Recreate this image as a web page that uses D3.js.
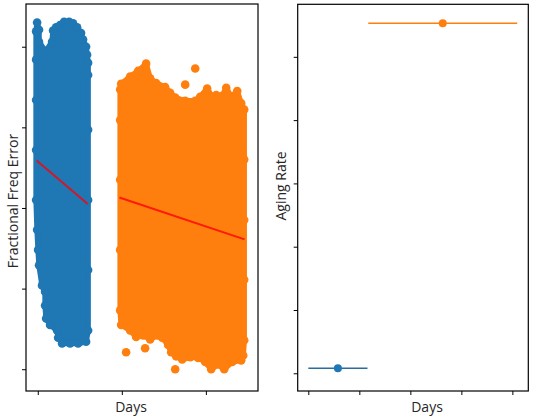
<!DOCTYPE html>
<html>
<head>
<meta charset="utf-8">
<script src="https://cdn.jsdelivr.net/npm/d3@7"></script>
<style>
  body { margin: 0; background: #fff; }
  text { font-family: "Open Sans", Lato, sans-serif; }
</style>
</head>
<body>
<div id="chart"></div>
<script>
// ---- data ----
// left panel: outline of each dense cloud of samples (days, fractional error)
var blueEdge = [
  [-2.0,2.19],[-0.8,2.30],[1.5,2.21],[1.5,2.06],[9.3,1.94],[17.0,2.06],[18.2,2.20],
  [21.8,2.24],[26.5,2.27],[31.3,2.31],[37.3,2.31],[42.0,2.29],[46.8,2.24],[51.5,2.17],
  [53.9,2.09],[57.5,2.00],[58.7,1.90],[59.9,1.80],[59.9,1.65],[59.9,0.97],[59.9,0.10],
  [59.9,-0.77],[59.9,-1.52],[57.5,-1.66],[48.0,-1.68],[38.5,-1.68],[28.9,-1.68],
  [24.2,-1.61],[23.0,-1.52],[14.6,-1.45],[9.9,-1.37],[8.7,-1.21],[8.7,-1.04],[5.1,-0.96],
  [1.5,-0.71],[0.4,-0.52],[-0.8,-0.27],[-2.0,0.10],[-2.0,0.72],[-2.0,1.34],[-2.0,1.84]
];
var orangeEdge = [
  [98.0,1.47],[99.2,1.54],[109.9,1.63],[119.4,1.70],[128.9,1.79],[133.7,1.61],[140.8,1.55],
  [151.5,1.50],[157.5,1.43],[163.5,1.37],[175.4,1.33],[187.3,1.33],[193.2,1.38],[201.5,1.48],
  [207.5,1.38],[212.3,1.40],[219.4,1.39],[224.2,1.49],[230.1,1.38],[237.3,1.45],[242.0,1.30],
  [245.6,1.22],[245.6,0.60],[245.6,-0.15],[245.6,-0.89],[245.6,-1.64],[244.4,-1.83],
  [242.0,-1.89],[231.3,-1.91],[221.8,-2.00],[214.6,-1.94],[206.3,-2.00],[199.2,-1.91],
  [190.8,-1.86],[181.3,-1.85],[171.8,-1.88],[164.6,-1.84],[158.7,-1.79],[155.1,-1.70],
  [148.0,-1.61],[142.0,-1.58],[133.7,-1.63],[125.4,-1.58],[117.0,-1.60],[109.9,-1.52],
  [99.2,-1.45],[98.0,-1.27],[98.0,-0.52],[98.0,0.35],[98.0,1.09]
];
var blueStray = [];
var orangeStray = [[175.4,1.53],[187.3,1.73],[105.1,-1.79],[127.7,-1.74],[163.5,-2.00]];

// linear fits drawn over each cloud
var blueFit = [[-1.4,0.59],[59.5,0.05]];
var orangeFit = [[97.1,0.13],[246.0,-0.39]];

var leftXTicks = [0, 100, 200];
var leftYTicks = [-2, -1, 0, 1, 2];

// right panel: aging rate per segment, with day span as x error
var ageDays = [58, 263.5];
var ageSpan = [58, 146];
var ageRate = [0.08, 5.53];
var ageColors = ["#2a6d9c", "#ff7f0e"];

var rightXTicks = [0, 100, 200, 300, 400];
var rightYTicks = [0, 1, 2, 3, 4, 5];

// ---- layout ----
var width = 536, height = 420;
var dotR = 4.3;
var blue = "#1f77b4", orange = "#ff7f0e";

var svg = d3.select("#chart").append("svg")
  .attr("width", width)
  .attr("height", height);

var xL = d3.scaleLinear().domain([-14, 262]).range([26, 258]);
var yL = d3.scaleLinear().domain([-2.27, 2.53]).range([391, 4]);
var xR = d3.scaleLinear().domain([-20.8, 431.2]).range([297.7, 528.3]);
var yR = d3.scaleLinear().domain([-0.28, 5.83]).range([391, 4.3]);

function drawAxes(x, y, xt, yt) {
  var gx = svg.append("g")
    .attr("transform", "translate(0," + y.range()[0] + ")")
    .call(d3.axisBottom(x).tickValues(xt).tickFormat("").tickSize(4).tickSizeOuter(0));
  gx.select(".domain").remove();
  var gy = svg.append("g")
    .attr("transform", "translate(" + x.range()[0] + ",0)")
    .call(d3.axisLeft(y).tickValues(yt).tickFormat("").tickSize(4).tickSizeOuter(0));
  gy.select(".domain").remove();
  svg.selectAll(".tick line").attr("stroke", "#000");
}

function drawCloud(edge, stray, color) {
  var line = d3.line()
    .x(function(d) { return xL(d[0]); })
    .y(function(d) { return yL(d[1]); })
    .curve(d3.curveLinearClosed);

  // body of the cloud, the dots on its rim give the ragged edge
  svg.append("path")
    .attr("d", line(edge))
    .attr("fill", color)
    .attr("stroke", color)
    .attr("stroke-width", 5.5)
    .attr("stroke-linejoin", "round");

  svg.append("g").selectAll("circle")
    .data(edge.concat(stray))
    .enter()
    .append("circle")
    .attr("cx", function(d) { return xL(d[0]); })
    .attr("cy", function(d) { return yL(d[1]); })
    .attr("r", dotR)
    .attr("fill", color);
}

function drawFit(pts) {
  svg.append("path")
    .attr("d", d3.line().x(function(d) { return xL(d[0]); }).y(function(d) { return yL(d[1]); })(pts))
    .attr("fill", "none")
    .attr("stroke", "red")
    .attr("stroke-opacity", 0.8)
    .attr("stroke-width", 2);
}

// left panel
drawCloud(blueEdge, blueStray, blue);
drawCloud(orangeEdge, orangeStray, orange);
drawFit(blueFit);
drawFit(orangeFit);
drawAxes(xL, yL, leftXTicks, leftYTicks);

// right panel
var pts = ageDays.map(function(d, i) { return { day: d, span: ageSpan[i], rate: ageRate[i], color: ageColors[i] }; });

svg.append("g").selectAll("line")
  .data(pts)
  .enter()
  .append("line")
  .attr("x1", function(d) { return xR(d.day - d.span); })
  .attr("x2", function(d) { return xR(d.day + d.span); })
  .attr("y1", function(d) { return yR(d.rate); })
  .attr("y2", function(d) { return yR(d.rate); })
  .attr("stroke", function(d) { return d.color; })
  .attr("stroke-width", 1.6);

svg.append("g").selectAll("circle")
  .data(pts)
  .enter()
  .append("circle")
  .attr("cx", function(d) { return xR(d.day); })
  .attr("cy", function(d) { return yR(d.rate); })
  .attr("r", 4)
  .attr("fill", function(d, i) { return i == 0 ? blue : orange; });

drawAxes(xR, yR, rightXTicks, rightYTicks);

// frames
[[xL, yL], [xR, yR]].forEach(function(s) {
  var x0 = s[0].range()[0], x1 = s[0].range()[1];
  var y0 = s[1].range()[1], y1 = s[1].range()[0];
  svg.append("rect")
    .attr("x", x0).attr("y", y0)
    .attr("width", x1 - x0).attr("height", y1 - y0)
    .attr("fill", "none")
    .attr("stroke", "#000")
    .attr("stroke-width", 1.2);
});

// labels
function label(txt, x, y, rot) {
  svg.append("text")
    .text(txt)
    .attr("transform", "translate(" + x + "," + y + ")" + (rot ? " rotate(-90)" : ""))
    .attr("text-anchor", "middle")
    .attr("font-size", "14px")
    .attr("fill", "#262626");
}
label("Days", 131, 412, false);
label("Days", 427, 412, false);
label("Fractional Freq Error", 18, 201, true);
label("Aging Rate", 286, 186, true);
</script>
</body>
</html>
